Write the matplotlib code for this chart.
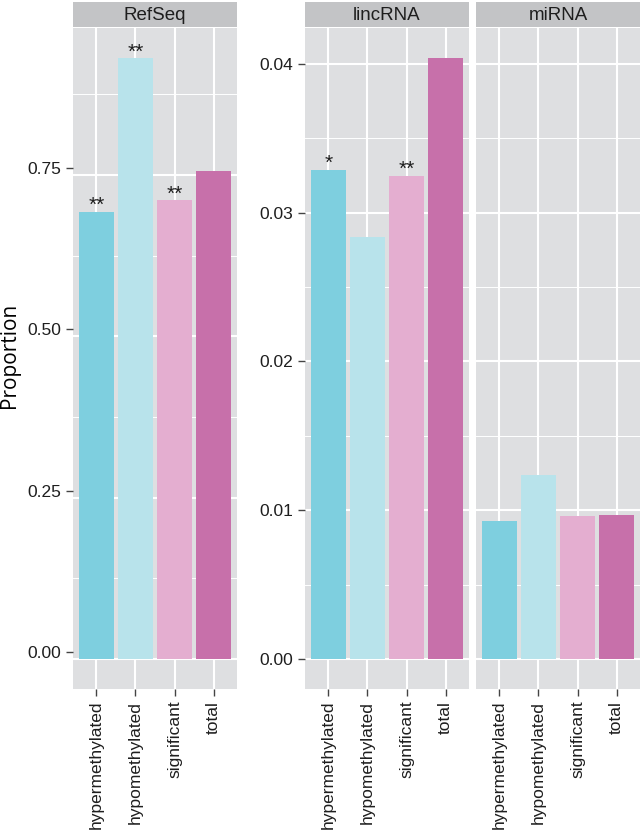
#plot proportions of genomic features by methylation class
import matplotlib.pyplot as plt
import matplotlib.transforms as mtransforms
import numpy as np

categories = ['hypermethylated', 'hypomethylated', 'significant', 'total']
refseq = [0.693, 0.931, 0.711, 0.756]
lincrna = [0.0329, 0.0284, 0.0325, 0.0404]
mirna = [0.0093, 0.0124, 0.0096, 0.0097]
refseq_stars = ['**', '**', '**', '']
lincrna_stars = ['*', '', '**', '']
mirna_stars = ['', '', '', '']

colors = ['#7ecfdf', '#b8e3eb', '#e4aed0', '#c770aa']
panel_bg = '#dedfe1'
strip_bg = '#c3c4c6'
text_col = '#1e1e1e'

plt.rcParams['font.family'] = ['Liberation Sans', 'DejaVu Sans']

W, H = 642, 834
fig = plt.figure(figsize=(W / 100, H / 100), dpi=100)


def panel(x0, x1, title, values, stars, ymax, major, minor, show_y=True):
    # panel in pixel coords -> figure fraction
    top, bottom = 28, 689
    ax = fig.add_axes([x0 / W, 1 - bottom / H, (x1 - x0) / W, (bottom - top) / H])
    ax.set_facecolor(panel_bg)
    x = np.arange(len(categories))
    ax.bar(x, values, width=0.9, color=colors, zorder=2)
    for xi, v, s in zip(x, values, stars):
        if s:
            ax.annotate(s, (xi, v), xytext=(0, 0.5), textcoords='offset points',
                        ha='center', va='baseline', fontsize=15, color=text_col)
    ax.set_xlim(-0.6, len(categories) - 0.4)
    ax.set_ylim(-0.05 * ymax, 1.05 * ymax)
    ax.set_xticks(x)
    ax.set_xticklabels(categories, rotation=90, fontsize=12.5, color=text_col)
    ax.set_yticks(major)
    ax.set_yticks(minor, minor=True)
    ax.grid(True, which='major', color='white', linewidth=1.5)
    ax.grid(True, which='minor', axis='y', color='white', linewidth=0.7)
    ax.set_axisbelow(True)
    for sp in ax.spines.values():
        sp.set_visible(False)
    ax.tick_params(axis='both', which='major', length=5, width=1, color='#444444',
                   pad=3.5, labelsize=12.5, labelcolor=text_col)
    ax.tick_params(axis='y', which='minor', length=0)
    if not show_y:
        ax.tick_params(axis='y', which='both', left=False, labelleft=False)
    # strip header
    sax = fig.add_axes([x0 / W, 1 - 27 / H, (x1 - x0) / W, 25 / H])
    sax.set_facecolor(strip_bg)
    sax.set_xticks([])
    sax.set_yticks([])
    for sp in sax.spines.values():
        sp.set_visible(False)
    sax.text(0.5, 0.48, title, ha='center', va='center', fontsize=13.5, color=text_col,
             transform=sax.transAxes)
    return ax


ax1 = panel(73, 237, 'RefSeq', refseq, refseq_stars, max(refseq),
            [0, 0.25, 0.5, 0.75], [0.125, 0.375, 0.625, 0.875])
ax1.set_yticklabels(['0.00', '0.25', '0.50', '0.75'])
# the RefSeq axis labels sit a few pixels above their grid lines in the original
shift = mtransforms.ScaledTranslation(0, 7 / 100, fig.dpi_scale_trans)
for t in ax1.yaxis.get_major_ticks():
    t.label1.set_transform(t.label1.get_transform() + shift)
    t.tick1line.set_transform(t.tick1line.get_transform() + shift)

shared_max = max(max(lincrna), max(mirna))
ax2 = panel(305, 469, 'lincRNA', lincrna, lincrna_stars, shared_max,
            [0, 0.01, 0.02, 0.03, 0.04], [0.005, 0.015, 0.025, 0.035])
ax2.set_yticklabels(['0.00', '0.01', '0.02', '0.03', '0.04'])
ax3 = panel(476, 640, 'miRNA', mirna, mirna_stars, shared_max,
            [0, 0.01, 0.02, 0.03, 0.04], [0.005, 0.015, 0.025, 0.035], show_y=False)

fig.text(10 / W, 1 - 355 / H, 'Proportion', rotation=90, ha='center', va='center',
         fontsize=15, color='black', family=['Open Sans', 'DejaVu Sans'])

fig.savefig('out.png', dpi=100)
